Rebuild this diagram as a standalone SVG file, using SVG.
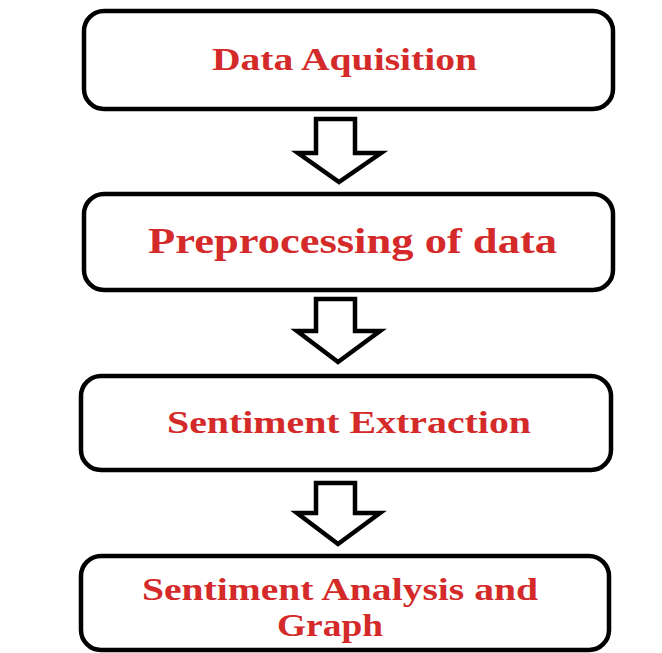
<svg xmlns="http://www.w3.org/2000/svg" width="662" height="653" viewBox="0 0 662 653">
<style>
.box{fill:#fff;stroke:#000;stroke-width:4.5}
.arr{fill:#fff;stroke:#000;stroke-width:4.5;stroke-linejoin:miter}
.t{font-family:"Liberation Serif","Times New Roman",serif;font-weight:bold;fill:#d42a2a}
</style>
<rect width="662" height="653" fill="#fff"/>
<g id="connectors">
<polygon class="arr" points="316,119 355,119 355,153 381,153 339,182 298,153 316,153"/>
<polygon class="arr" points="316,299 355,299 355,331 380,331 338,362 297,331 316,331"/>
<polygon class="arr" points="316,483 355,483 355,513 380,513 338,544 297,513 316,513"/>
</g>
<g id="node1">
<rect class="box" x="84" y="11" width="529" height="98" rx="20"/>
<text class="t" x="212" y="70" font-size="31" textLength="265" lengthAdjust="spacingAndGlyphs">Data Aquisition</text>
</g>
<g id="node2">
<rect class="box" x="84" y="194" width="529" height="96" rx="20"/>
<text class="t" x="148" y="253" font-size="35" textLength="409" lengthAdjust="spacingAndGlyphs">Preprocessing of data</text>
</g>
<g id="node3">
<rect class="box" x="81" y="376" width="530" height="94" rx="20"/>
<text class="t" x="167" y="433" font-size="31" textLength="364" lengthAdjust="spacingAndGlyphs">Sentiment Extraction</text>
</g>
<g id="node4">
<rect class="box" x="81" y="556" width="528" height="94" rx="20"/>
<text class="t" x="142" y="600" font-size="31" textLength="396" lengthAdjust="spacingAndGlyphs">Sentiment Analysis and</text>
<text class="t" x="277" y="636" font-size="31" textLength="106" lengthAdjust="spacingAndGlyphs">Graph</text>
</g>
</svg>
